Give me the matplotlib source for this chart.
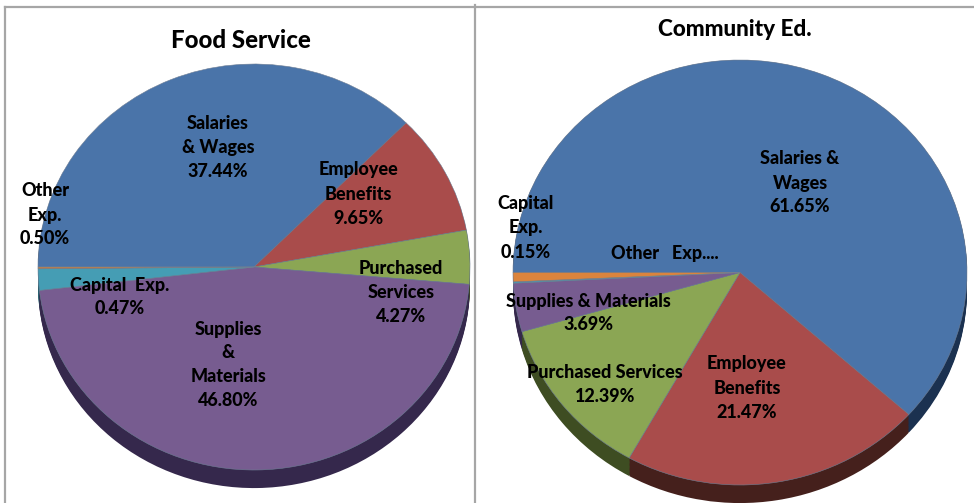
import matplotlib
matplotlib.use('Agg')
import matplotlib.pyplot as plt
import numpy as np

plt.rcParams['font.family'] = ['Lato', 'DejaVu Sans']

W, H = 974, 503

# wedge sizes, the small slices are drawn bigger than their labels say
food_names = ['Salaries', 'Employee Benefits', 'Purchased Services', 'Supplies', 'Capital', 'Other']
food_sizes = [37.44, 9.65, 4.27, 46.80, 1.70, 0.14]
food_colors = ['#4A74A9', '#A94C4B', '#8BA654', '#775C90', '#459DB4', '#C9803F']
food_dark = ['#1E3350', '#45201C', '#3E4D22', '#35284C', '#2A5F6E', '#7A4D25']

comm_names = ['Salaries', 'Employee Benefits', 'Purchased Services', 'Supplies', 'Other', 'Capital']
comm_sizes = [61.65, 21.47, 12.39, 3.69, 0.10, 0.70]
comm_colors = ['#4A74A9', '#A94C4B', '#8BA654', '#775C90', '#459DB4', '#DB843D']
comm_dark = ['#1B3150', '#45201C', '#3E4D22', '#35284C', '#2A5F6E', '#7A4D25']

food_labels = [
    ('Salaries\n& Wages\n37.44%', 218, 147),
    ('Employee\nBenefits\n9.65%', 358, 194),
    ('Purchased\nServices\n4.27%', 401, 292),
    ('Supplies\n&\nMaterials\n46.80%', 228, 365),
    ('Capital  Exp.\n0.47%', 120, 297),
    ('Other\nExp.\n0.50%', 45, 215),
]
comm_labels = [
    ('Salaries &\nWages\n61.65%', 800, 183),
    ('Employee\nBenefits\n21.47%', 747, 388),
    ('Purchased Services\n12.39%', 605, 384),
    ('Supplies & Materials\n3.69%', 588, 313),
    ('Other   Exp....', 665, 254),
    ('Capital\nExp.\n0.15%', 526, 228),
]


def draw_pie(box, sizes, colors, dark, depth):
    x0, y0, x1, y1 = box
    ax = fig.add_axes([x0 / W, 1 - y1 / H, (x1 - x0) / W, (y1 - y0) / H])
    # side of the pie, stacked copies going down
    for d in np.arange(depth, 0, -0.006):
        ax.pie(sizes, colors=dark, startangle=180, counterclock=False, center=(0, -d),
               wedgeprops={'linewidth': 0})
    ax.pie(sizes, colors=colors, startangle=180, counterclock=False,
           wedgeprops={'linewidth': 0.4, 'edgecolor': '#6F7F95'})
    ax.set_aspect('auto')
    ax.set_xlim(-1, 1)
    ax.set_ylim(-1, 1)
    for p in ax.patches:
        p.set_clip_on(False)


def put_text(s, x, y, size, **kw):
    fig.text(x / W, 1 - y / H, s, ha='center', va='center', fontsize=size,
             fontweight=900, color='black', linespacing=1.5, **kw)


def frame_line(xs, ys):
    fig.add_artist(plt.Line2D(np.array(xs) / W, 1 - np.array(ys) / H, color='#A6A6A6', lw=1.6))


fig = plt.figure(figsize=(W / 100, H / 100), dpi=100)

draw_pie((38, 64, 470, 470), food_sizes, food_colors, food_dark, 0.089)
draw_pie((513, 60, 967, 485), comm_sizes, comm_colors, comm_dark, 0.085)

frame_line([5, 5], [6.5, 503])
frame_line([475, 475], [5, 503])
frame_line([5, 974], [6.5, 6.5])

put_text('Food Service', 241, 41, 17.3)
put_text('Community Ed.', 735, 30, 16.2)

for s, x, y in food_labels:
    put_text(s, x, y, 13)
for s, x, y in comm_labels:
    put_text(s, x, y, 13)

fig.savefig('out.png', dpi=100)
